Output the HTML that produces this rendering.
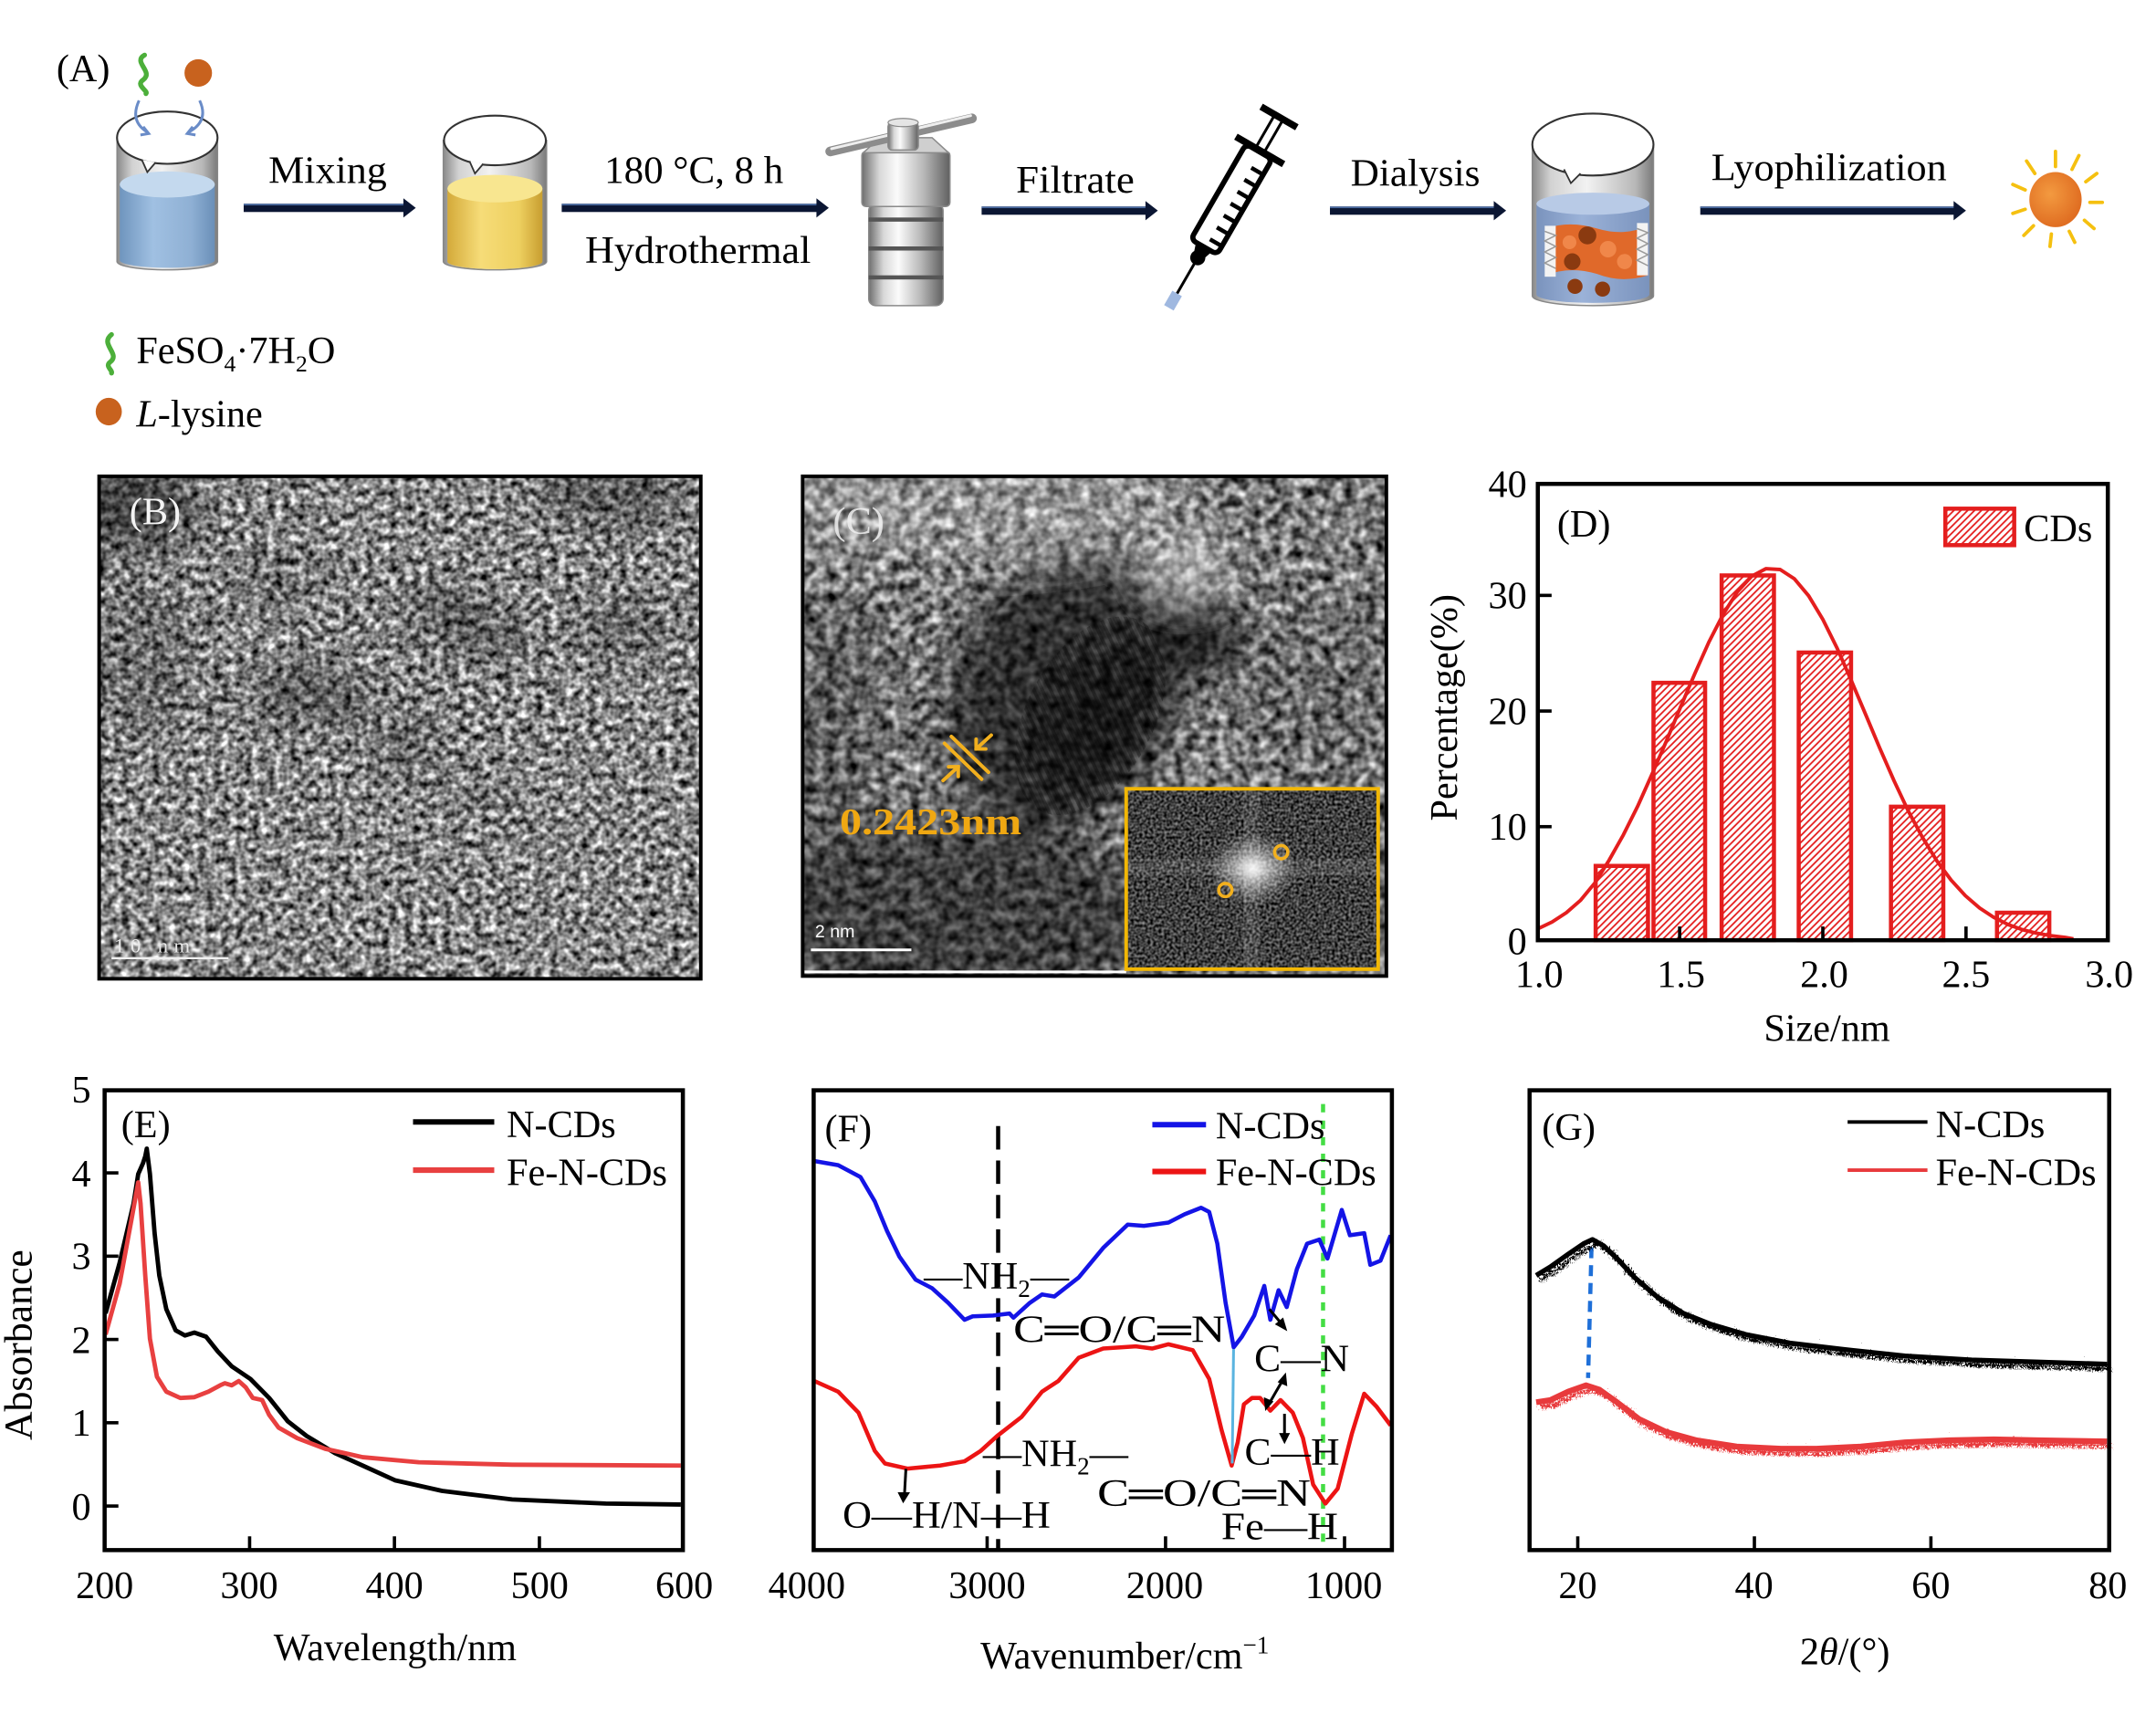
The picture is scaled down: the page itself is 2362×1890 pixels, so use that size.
<!DOCTYPE html>
<html><head><meta charset="utf-8"><style>
html,body{margin:0;padding:0;background:#fff;}
svg{display:block;}
text{font-family:"Liberation Serif","DejaVu Serif",serif;fill:#000;}
</style></head><body>
<svg xmlns="http://www.w3.org/2000/svg" width="2362" height="1890" viewBox="0 0 1566 1253.05">
<defs>
<linearGradient id="glass" x1="0" x2="1" y1="0" y2="0"><stop offset="0" stop-color="#8a8a8a"/><stop offset="0.15" stop-color="#d2d2d2"/><stop offset="0.45" stop-color="#f2f2f2"/><stop offset="0.85" stop-color="#b8b8b8"/><stop offset="1" stop-color="#7a7a7a"/></linearGradient>
<linearGradient id="blueLiq" x1="0" x2="1"><stop offset="0" stop-color="#6f95be"/><stop offset="0.35" stop-color="#a0c0e2"/><stop offset="0.75" stop-color="#8fb0d4"/><stop offset="1" stop-color="#6a8fb8"/></linearGradient>
<linearGradient id="yelLiq" x1="0" x2="1"><stop offset="0" stop-color="#d4aa3a"/><stop offset="0.35" stop-color="#f6dc78"/><stop offset="0.75" stop-color="#eed060"/><stop offset="1" stop-color="#c89e30"/></linearGradient>
<linearGradient id="steel" x1="0" x2="1"><stop offset="0" stop-color="#6e6e6e"/><stop offset="0.2" stop-color="#d8d8d8"/><stop offset="0.4" stop-color="#fbfbfb"/><stop offset="0.7" stop-color="#b8b8b8"/><stop offset="1" stop-color="#606060"/></linearGradient>
<linearGradient id="dialLiq" x1="0" x2="1"><stop offset="0" stop-color="#7a93bd"/><stop offset="0.4" stop-color="#9bb2d8"/><stop offset="1" stop-color="#7a93bd"/></linearGradient>
<radialGradient id="sunG" cx="0.4" cy="0.4" r="0.6"><stop offset="0" stop-color="#f39a40"/><stop offset="1" stop-color="#e06e22"/></radialGradient>
<radialGradient id="fftG"><stop offset="0" stop-color="#fff" stop-opacity="0.95"/><stop offset="0.5" stop-color="#fff" stop-opacity="0.4"/><stop offset="1" stop-color="#fff" stop-opacity="0"/></radialGradient>
<pattern id="hatch" width="5" height="5" patternUnits="userSpaceOnUse"><rect width="5" height="5" fill="#fff"/><path d="M-1,1 L1,-1 M0,5 L5,0 M4,6 L6,4" stroke="#e41e1e" stroke-width="1.2"/></pattern>
<pattern id="fr" width="5.5" height="6" patternUnits="userSpaceOnUse" patternTransform="rotate(-25)"><rect width="2.6" height="6" fill="#000"/></pattern>
<filter id="fB" filterUnits="userSpaceOnUse" x="72" y="346" width="437" height="365" color-interpolation-filters="sRGB">
<feTurbulence type="fractalNoise" baseFrequency="0.18" numOctaves="2" seed="11"/>
<feColorMatrix type="matrix" values="1.6 0 0 0 -0.27  1.6 0 0 0 -0.27  1.6 0 0 0 -0.27  0 0 0 0 1"/>
</filter>
<filter id="fC" filterUnits="userSpaceOnUse" x="583" y="346" width="424" height="364" color-interpolation-filters="sRGB">
<feTurbulence type="fractalNoise" baseFrequency="0.13" numOctaves="2" seed="5"/>
<feColorMatrix type="matrix" values="1.4 0 0 0 -0.22  1.4 0 0 0 -0.22  1.4 0 0 0 -0.22  0 0 0 0 1"/>
</filter>
<filter id="fI" filterUnits="userSpaceOnUse" x="818" y="573" width="183" height="131" color-interpolation-filters="sRGB">
<feTurbulence type="fractalNoise" baseFrequency="0.5" numOctaves="1" seed="2"/>
<feColorMatrix type="matrix" values="1.0 0 0 0 -0.25  1.0 0 0 0 -0.25  1.0 0 0 0 -0.25  0 0 0 0 1"/>
</filter>
<filter id="blur14" x="-50%" y="-50%" width="200%" height="200%"><feGaussianBlur stdDeviation="14"/></filter>
<filter id="jit" filterUnits="userSpaceOnUse" x="1105" y="880" width="435" height="200">
<feTurbulence type="turbulence" baseFrequency="0.8 0.4" numOctaves="1" seed="3" result="t"/>
<feDisplacementMap in="SourceGraphic" in2="t" scale="9" xChannelSelector="R" yChannelSelector="G"/>
</filter>
<clipPath id="cB"><rect x="72" y="346" width="437" height="365"/></clipPath>
<clipPath id="cC"><rect x="583" y="346" width="424" height="363"/></clipPath>
<clipPath id="cI"><rect x="818" y="573" width="183" height="131"/></clipPath>
<clipPath id="cPart"><ellipse cx="792" cy="520" rx="46" ry="78" transform="rotate(28 792 520)"/></clipPath>
</defs>

<!-- ================= PANEL A ================= -->
<text x="41" y="59" font-size="28">(A)</text>
<path d="M105,40 C96,45 112,52 104,58 C98,62 108,66 106,68" stroke="#4caf3a" stroke-width="3.5" fill="none" stroke-linecap="round"/>
<ellipse cx="144" cy="53" rx="10" ry="10" fill="#c8621e"/>

<path d="M85,100 L85,190 A36.5,6 0 0 0 158,190 L158,100 Z" fill="url(#glass)" stroke="#888" stroke-width="1"/>
<path d="M87,134 L87,189 A34.5,5.5 0 0 0 156,189 L156,134 Z" fill="url(#blueLiq)"/>
<ellipse cx="121.5" cy="134" rx="34.5" ry="9.5" fill="#c4d9ee"/>
<ellipse cx="121.5" cy="100" rx="36.5" ry="19" fill="#fff" stroke="#333" stroke-width="1.4"/>
<path d="M103,116 L107,125 L113,118" fill="#fff" stroke="#333" stroke-width="1.2"/>
<path d="M101,73 Q94,88 107,96" stroke="#6a8cc8" stroke-width="2" fill="none"/>
<path d="M104,92 L108,97 L102,98" stroke="#6a8cc8" stroke-width="2" fill="none"/>
<path d="M145,73 Q152,88 137,96" stroke="#6a8cc8" stroke-width="2" fill="none"/>
<path d="M140,92 L136,97 L142,98" stroke="#6a8cc8" stroke-width="2" fill="none"/>

<rect x="177" y="148" width="118" height="6" fill="#0b1633"/><rect x="177" y="148" width="118" height="1.2" fill="#4a6aa0"/>
<polygon points="293,144 302,151 293,158" fill="#0b1633"/>
<text x="195" y="133" font-size="28" textLength="86" lengthAdjust="spacingAndGlyphs">Mixing</text>

<path d="M322,102 L322,190 A37.5,6 0 0 0 397,190 L397,102 Z" fill="url(#glass)" stroke="#888" stroke-width="1"/>
<path d="M325,137 L325,190 A34.5,5.5 0 0 0 394,190 L394,137 Z" fill="url(#yelLiq)"/>
<ellipse cx="359.5" cy="137" rx="34.5" ry="10" fill="#f8e690"/>
<ellipse cx="359.5" cy="102" rx="37" ry="18" fill="#fff" stroke="#333" stroke-width="1.4"/>
<path d="M341,117 L345,126 L351,119" fill="#fff" stroke="#333" stroke-width="1.2"/>

<rect x="408" y="148" width="186" height="6" fill="#0b1633"/><rect x="408" y="148" width="186" height="1.2" fill="#4a6aa0"/>
<polygon points="593,144 602,151 593,158" fill="#0b1633"/>
<text x="439" y="133" font-size="28" textLength="130" lengthAdjust="spacingAndGlyphs">180 °C, 8 h</text>
<text x="425" y="191" font-size="28" textLength="164" lengthAdjust="spacingAndGlyphs">Hydrothermal</text>

<rect x="631" y="148" width="54" height="74" rx="5" fill="url(#steel)" stroke="#8a8a8a" stroke-width="1"/>
<rect x="631" y="158" width="54" height="3" fill="#555"/>
<rect x="631" y="179" width="54" height="3" fill="#555"/>
<rect x="631" y="200" width="54" height="3" fill="#555"/>
<rect x="626" y="110" width="64" height="40" rx="3" fill="url(#steel)" stroke="#8a8a8a" stroke-width="1"/>
<polygon points="627,111 639,100 677,100 689,111" fill="#cfcfcf" stroke="#8a8a8a" stroke-width="1"/>
<line x1="603" y1="110" x2="706" y2="86" stroke="#8c8c8c" stroke-width="7" stroke-linecap="round"/>
<line x1="604" y1="108" x2="705" y2="84" stroke="#eeeeee" stroke-width="2" stroke-linecap="round"/>
<rect x="645" y="89" width="22" height="20" rx="3" fill="url(#steel)" stroke="#888" stroke-width="1"/>
<ellipse cx="656" cy="89" rx="11" ry="3" fill="#e5e5e5" stroke="#888" stroke-width="0.8"/>

<rect x="713" y="150" width="120" height="6" fill="#0b1633"/><rect x="713" y="150" width="120" height="1.2" fill="#4a6aa0"/>
<polygon points="832,146 841,153 832,160" fill="#0b1633"/>
<text x="738" y="140" font-size="28" textLength="86" lengthAdjust="spacingAndGlyphs">Filtrate</text>

<g transform="translate(929,85) rotate(120)">
<line x1="0" y1="-15" x2="0" y2="15" stroke="#000" stroke-width="5"/>
<line x1="0" y1="-3.5" x2="30" y2="-3.5" stroke="#000" stroke-width="2"/>
<line x1="0" y1="3.5" x2="30" y2="3.5" stroke="#000" stroke-width="2"/>
<line x1="28" y1="-20" x2="28" y2="20" stroke="#000" stroke-width="5"/>
<rect x="29" y="-11" width="80" height="22" rx="4" fill="#fff" stroke="#000" stroke-width="3.8"/>
<g stroke="#000" stroke-width="3">
<line x1="42" y1="-10" x2="42" y2="-1"/><line x1="52" y1="-10" x2="52" y2="-1"/><line x1="62" y1="-10" x2="62" y2="-1"/><line x1="72" y1="-10" x2="72" y2="-1"/><line x1="82" y1="-10" x2="82" y2="-1"/><line x1="92" y1="-10" x2="92" y2="-1"/><line x1="102" y1="-10" x2="102" y2="-1"/>
</g>
<path d="M108,-7 L120,-3 L120,3 L108,7 Z" fill="#000"/>
<circle cx="118" cy="0" r="5.5" fill="#000"/>
<line x1="120" y1="0" x2="150" y2="0" stroke="#000" stroke-width="2"/>
<rect x="148" y="-4" width="12" height="8" fill="#9fb8e0"/>
</g>

<rect x="966" y="150" width="120" height="6" fill="#0b1633"/><rect x="966" y="150" width="120" height="1.2" fill="#4a6aa0"/>
<polygon points="1085,146 1094,153 1085,160" fill="#0b1633"/>
<text x="981" y="135" font-size="28" textLength="94" lengthAdjust="spacingAndGlyphs">Dialysis</text>

<path d="M1113,106 L1113,215 A44,7 0 0 0 1201,215 L1201,106 Z" fill="url(#glass)" stroke="#888" stroke-width="1"/>
<path d="M1116,148 L1116,214 A41,6 0 0 0 1198,214 L1198,148 Z" fill="url(#dialLiq)"/>
<ellipse cx="1157" cy="148" rx="41" ry="8" fill="#b8cae6"/>
<path d="M1123,166 Q1140,160 1160,166 Q1180,172 1197,164 L1197,200 Q1178,206 1160,199 Q1140,193 1123,200 Z" fill="#e0692a"/>
<rect x="1122" y="164" width="8" height="37" fill="#f3f3f3"/>
<path d="M1122,168 L1130,171 L1122,175 L1130,179 L1122,183 L1130,187 L1122,191 L1130,195" stroke="#9a9a9a" stroke-width="1" fill="none"/>
<rect x="1189" y="162" width="8" height="38" fill="#f3f3f3"/>
<path d="M1189,166 L1197,169 L1189,173 L1197,177 L1189,181 L1197,185 L1189,189 L1197,193" stroke="#9a9a9a" stroke-width="1" fill="none"/>
<circle cx="1153" cy="171" r="6.5" fill="#8a3a10"/>
<circle cx="1142" cy="190" r="6" fill="#8a3a10"/>
<circle cx="1168" cy="181" r="6" fill="#f0874a"/>
<circle cx="1180" cy="190" r="5.5" fill="#f0874a"/>
<circle cx="1140" cy="176" r="5" fill="#f0874a"/>
<circle cx="1144" cy="208" r="5.5" fill="#8a3a10"/>
<circle cx="1164" cy="210" r="5.5" fill="#8a3a10"/>
<ellipse cx="1157" cy="105" rx="44" ry="22.5" fill="#fff" stroke="#333" stroke-width="1.4"/>
<path d="M1136,123 L1141,133 L1148,126" fill="#fff" stroke="#333" stroke-width="1.2"/>

<rect x="1235" y="150" width="185" height="6" fill="#0b1633"/><rect x="1235" y="150" width="185" height="1.2" fill="#4a6aa0"/>
<polygon points="1419,146 1428,153 1419,160" fill="#0b1633"/>
<text x="1243" y="131" font-size="28" textLength="171" lengthAdjust="spacingAndGlyphs">Lyophilization</text>

<g stroke="#f5c010" stroke-width="2.5" stroke-linecap="round">
<line x1="1493" y1="121" x2="1493" y2="110"/>
<line x1="1505" y1="123" x2="1510" y2="113"/>
<line x1="1515" y1="132" x2="1523" y2="126"/>
<line x1="1518" y1="147" x2="1527" y2="147"/>
<line x1="1514" y1="160" x2="1521" y2="166"/>
<line x1="1503" y1="168" x2="1507" y2="176"/>
<line x1="1490" y1="170" x2="1489" y2="179"/>
<line x1="1477" y1="164" x2="1470" y2="171"/>
<line x1="1471" y1="152" x2="1462" y2="155"/>
<line x1="1471" y1="138" x2="1462" y2="134"/>
<line x1="1478" y1="126" x2="1472" y2="117"/>
</g>
<ellipse cx="1493" cy="145" rx="19" ry="20" fill="url(#sunG)"/>

<path d="M81,243 C72,250 88,257 80,263 C76,266 82,269 81,271" stroke="#4caf3a" stroke-width="3.5" fill="none" stroke-linecap="round"/>
<text x="99" y="264" font-size="28">FeSO<tspan font-size="17" dy="6">4</tspan><tspan dy="-6">·7H</tspan><tspan font-size="17" dy="6">2</tspan><tspan dy="-6">O</tspan></text>
<ellipse cx="79" cy="299" rx="9.5" ry="10" fill="#c8621e"/>
<text x="99" y="310" font-size="28"><tspan font-style="italic">L</tspan>-lysine</text>

<!-- ================= PANEL B ================= -->
<rect x="72" y="346" width="437" height="365" fill="#888"/>
<rect x="72" y="346" width="437" height="365" filter="url(#fB)"/>
<g clip-path="url(#cB)">
<g filter="url(#blur14)" fill="#000">
<ellipse cx="95" cy="368" rx="50" ry="32" opacity="0.5"/>
<ellipse cx="445" cy="360" rx="55" ry="20" opacity="0.38"/>
<ellipse cx="338" cy="452" rx="48" ry="18" transform="rotate(20 338 452)" opacity="0.38"/>
<ellipse cx="225" cy="505" rx="45" ry="20" opacity="0.36"/>
<ellipse cx="295" cy="540" rx="26" ry="18" opacity="0.3"/>
<ellipse cx="452" cy="455" rx="36" ry="20" opacity="0.28"/>
<ellipse cx="105" cy="480" rx="38" ry="55" opacity="0.2"/>
<ellipse cx="350" cy="578" rx="22" ry="10" opacity="0.25"/>
<ellipse cx="200" cy="420" rx="40" ry="20" opacity="0.18"/>
</g>
<line x1="81" y1="696" x2="166" y2="696" stroke="#f0f0f0" stroke-width="1.6"/>
<text x="83" y="692" font-size="15" style="fill:#e8e8e8" textLength="55" lengthAdjust="spacing">10 nm</text>
<text x="94" y="381" font-size="28" style="fill:#f4f4f4">(B)</text>
</g>
<rect x="72" y="346" width="437" height="365" fill="none" stroke="#000" stroke-width="2.6"/>

<!-- ================= PANEL C ================= -->
<rect x="583" y="346" width="424" height="363" fill="#777"/>
<rect x="583" y="346" width="424" height="363" filter="url(#fC)"/>
<g clip-path="url(#cC)">
<g filter="url(#blur14)">
<ellipse cx="690" cy="365" rx="170" ry="40" fill="#fff" opacity="0.22"/>
<ellipse cx="862" cy="408" rx="28" ry="24" fill="#fff" opacity="0.45"/>
<ellipse cx="772" cy="500" rx="80" ry="106" transform="rotate(28 772 500)" fill="#000" opacity="0.6"/>
<ellipse cx="873" cy="460" rx="28" ry="32" fill="#000" opacity="0.7"/>
<ellipse cx="690" cy="665" rx="150" ry="70" fill="#000" opacity="0.48"/>
<ellipse cx="605" cy="520" rx="40" ry="90" fill="#000" opacity="0.22"/>
<ellipse cx="800" cy="530" rx="45" ry="62" transform="rotate(28 800 530)" fill="#000" opacity="0.38"/>
<ellipse cx="960" cy="640" rx="60" ry="50" fill="#000" opacity="0.25"/>
<ellipse cx="960" cy="500" rx="60" ry="60" fill="#000" opacity="0.12"/>
</g>
<g clip-path="url(#cPart)"><rect x="730" y="430" width="130" height="180" fill="url(#fr)" opacity="0.3"/></g>
<line x1="589" y1="690" x2="662" y2="690" stroke="#fff" stroke-width="2"/>
<text x="592" y="681" font-size="13" style="fill:#fff;font-family:'Liberation Sans',sans-serif">2 nm</text>
<line x1="583" y1="706" x2="818" y2="706" stroke="#fff" stroke-width="2"/>
<text x="605" y="388" font-size="28" style="fill:#f0f0f0" opacity="0.85">(C)</text>
</g>
<g stroke="#f2b01e" stroke-width="2.6" fill="none" stroke-linecap="round">
<line x1="686" y1="540" x2="713" y2="566"/>
<line x1="691" y1="535" x2="718" y2="561"/>
<line x1="720" y1="534" x2="709" y2="544"/>
<path d="M709,537 L709,544 L716,544"/>
<line x1="685" y1="567" x2="696" y2="557"/>
<path d="M689,557 L696,557 L696,564"/>
</g>
<text x="610" y="606" font-size="27" font-weight="bold" style="fill:#f0a812" textLength="132" lengthAdjust="spacingAndGlyphs">0.2423nm</text>
<rect x="818" y="573" width="183" height="131" fill="#3a3a3a"/>
<rect x="818" y="573" width="183" height="131" filter="url(#fI)"/>
<g clip-path="url(#cI)">
<rect x="903" y="573" width="12" height="131" fill="#fff" opacity="0.1"/>
<rect x="818" y="624" width="183" height="12" fill="#fff" opacity="0.1"/>
<ellipse cx="910" cy="631" rx="32" ry="26" fill="url(#fftG)"/>
</g>
<circle cx="930.6" cy="619" r="4.8" fill="none" stroke="#f2b01e" stroke-width="2.4"/>
<circle cx="890" cy="646.5" r="4.8" fill="none" stroke="#f2b01e" stroke-width="2.4"/>
<rect x="818" y="573" width="183" height="131" fill="none" stroke="#f2b705" stroke-width="2.6"/>
<rect x="583" y="346" width="424" height="363" fill="none" stroke="#000" stroke-width="2.6"/>

<!-- ================= PANEL D ================= -->
<g stroke="#e41e1e" stroke-width="3" fill="url(#hatch)">
<rect x="1159" y="629" width="38" height="54"/>
<rect x="1201" y="496" width="37.5" height="187"/>
<rect x="1250.5" y="418" width="38" height="265"/>
<rect x="1306.5" y="474" width="38" height="209"/>
<rect x="1373.5" y="586" width="38" height="97"/>
<rect x="1450.5" y="663" width="38" height="20"/>
<rect x="1413" y="369.5" width="50" height="26.5"/>
</g>
<polyline fill="none" stroke="#e41e1e" stroke-width="2.6" stroke-linejoin="round" points="1117,674.7 1127.4,669.7 1137.7,663 1148.1,653.9 1158.4,641.4 1168.8,624.8 1179.1,606.5 1189.5,585.7 1199.8,562.7 1210.2,538.7 1220.5,514 1230.9,489.6 1241.2,466.5 1251.6,446.2 1261.9,429.9 1272.3,418.6 1282.6,413.1 1293,413.7 1303.3,420.4 1313.7,432.8 1324,449.9 1334.4,470.9 1344.7,494.4 1355.1,519 1365.4,543.6 1375.8,567.3 1386.1,589.2 1396.5,608.5 1406.8,625.3 1417.2,639.3 1427.5,650.6 1437.9,659.6 1448.2,666.4 1458.6,671.6 1468.9,675.3 1479.3,677.9 1489.6,679.7 1500,680.9 1506,682"/>
<g stroke="#000" stroke-width="2.4">
<line x1="1117" y1="432.5" x2="1127" y2="432.5"/>
<line x1="1117" y1="516.5" x2="1127" y2="516.5"/>
<line x1="1117" y1="600.5" x2="1127" y2="600.5"/>
<line x1="1220" y1="683" x2="1220" y2="673"/>
<line x1="1324" y1="683" x2="1324" y2="673"/>
<line x1="1428" y1="683" x2="1428" y2="673"/>
</g>
<rect x="1117" y="351.5" width="414" height="331.5" fill="none" stroke="#000" stroke-width="3"/>
<g font-size="28" text-anchor="end">
<text x="1109" y="361">40</text><text x="1109" y="442">30</text><text x="1109" y="526">20</text><text x="1109" y="610">10</text><text x="1109" y="693">0</text>
</g>
<g font-size="28" text-anchor="middle">
<text x="1118" y="717">1.0</text><text x="1221" y="717">1.5</text><text x="1325" y="717">2.0</text><text x="1428" y="717">2.5</text><text x="1532" y="717">3.0</text>
<text x="1327" y="756">Size/nm</text>
</g>
<text x="1131" y="390" font-size="28">(D)</text>
<text x="1470" y="393" font-size="28">CDs</text>
<text transform="translate(1058,514) rotate(-90)" font-size="28" text-anchor="middle">Percentage(%)</text>

<!-- ================= PANEL E ================= -->
<polyline fill="none" stroke="#000" stroke-width="3.2" stroke-linejoin="round" points="76.7,954 86.9,917.3 97,874.3 100.4,852.8 103.8,845.1 105.5,840 106.6,834.4 108.9,852.8 112.3,895.8 115.7,926.5 120.8,951 127.6,966.4 134.4,970.1 141.2,968 149.7,971 158.2,981.7 168.3,992.5 181.9,1001.7 195.5,1015.5 209,1032.4 222.7,1043.1 243,1055.4 263.4,1064.6 287.2,1075.4 321.1,1083 372,1089.2 439.9,1092.2 494.5,1092.9"/>
<polyline fill="none" stroke="#e84040" stroke-width="3.2" stroke-linejoin="round" points="76.7,969.4 86.9,932.5 95.4,886.5 100.4,858.9 102.1,874.3 105.5,926.5 108.9,972.5 114,1000.1 120.8,1010.9 131,1015.5 141.2,1014.9 151.4,1010.9 159.9,1006.3 163.3,1004.8 168.3,1006.3 173.4,1003.2 178.5,1007.8 183.6,1015.5 190.4,1017 195.5,1027.8 202.3,1037 215.9,1044.7 236.2,1052.4 263.4,1058.5 304.1,1062.2 372,1064 494.5,1064.6"/>
<g stroke="#000" stroke-width="2.4">
<line x1="76" y1="852" x2="86" y2="852"/>
<line x1="76" y1="912.5" x2="86" y2="912.5"/>
<line x1="76" y1="973" x2="86" y2="973"/>
<line x1="76" y1="1033.5" x2="86" y2="1033.5"/>
<line x1="76" y1="1094" x2="86" y2="1094"/>
<line x1="181.3" y1="1126" x2="181.3" y2="1116"/>
<line x1="286.5" y1="1126" x2="286.5" y2="1116"/>
<line x1="391.8" y1="1126" x2="391.8" y2="1116"/>
</g>
<rect x="76" y="792" width="420" height="334" fill="none" stroke="#000" stroke-width="3"/>
<g font-size="28" text-anchor="end">
<text x="66" y="801">5</text><text x="66" y="862">4</text><text x="66" y="922">3</text><text x="66" y="983">2</text><text x="66" y="1043">1</text><text x="66" y="1104">0</text>
</g>
<g font-size="28" text-anchor="middle">
<text x="76" y="1161">200</text><text x="181" y="1161">300</text><text x="286.5" y="1161">400</text><text x="392" y="1161">500</text><text x="497" y="1161">600</text>
<text x="287" y="1206">Wavelength/nm</text>
</g>
<text transform="translate(23,977) rotate(-90)" font-size="29" text-anchor="middle">Absorbance</text>
<text x="88" y="826" font-size="28">(E)</text>
<line x1="300" y1="815" x2="359" y2="815" stroke="#000" stroke-width="4"/>
<line x1="300" y1="850" x2="359" y2="850" stroke="#e84040" stroke-width="4"/>
<text x="368" y="826" font-size="28">N-CDs</text>
<text x="368" y="861" font-size="28">Fe-N-CDs</text>

<!-- ================= PANEL F ================= -->
<line x1="725" y1="818" x2="725" y2="1126" stroke="#000" stroke-width="3" stroke-dasharray="17 8"/>
<line x1="961" y1="802" x2="961" y2="1126" stroke="#44dd44" stroke-width="3" stroke-dasharray="6 6"/>
<polyline fill="none" stroke="#1414e6" stroke-width="3" stroke-linejoin="round" points="591.6,843.4 608.8,846.4 625,855 635.4,872.7 644.3,894.2 653.2,912.7 665,929.5 676.9,935.7 688.7,946.4 700.6,958.7 706.5,956.2 721.3,955.6 733.2,954.1 736.1,957.2 748,946.4 756.9,940.3 765.8,941.8 783.5,928 801.3,906.5 819.1,889.6 830.9,890.5 848.7,888.1 860.5,882 872.4,877.3 878.3,880.4 884.2,903.4 890.2,946.4 896.1,978.7 902,971 911,955.6 918.3,934.1 922.7,958.7 928.7,937.2 934.6,949.5 942,921.9 949.4,903.4 958.3,900.4 964.2,914.2 974.6,878.9 980.5,897.3 990.9,895.8 995.3,918.8 1002.7,915.8 1010.1,897.3"/>
<polyline fill="none" stroke="#ec1414" stroke-width="3" stroke-linejoin="round" points="591.6,1003.2 608.8,1010.9 623.6,1026.2 635.4,1053.9 642.8,1063.1 659.1,1066.8 682.8,1064.6 700.6,1061.5 712.4,1053.9 724.3,1043.1 742,1029.3 756.9,1010.9 768.7,1003.2 783.5,986.3 801.3,979.6 825,978 836.8,979.6 848.7,976.5 866.4,980.8 878.3,1001.7 887.2,1038.5 894.6,1064.6 899,1047.7 903.5,1020.1 909.4,1015.5 915.3,1015.5 922.7,1024.7 930.1,1017 939,1026.2 946.4,1044.6 953.8,1078.4 962.7,1092.2 971.6,1081.4 981.9,1041.5 990.9,1012.4 999.7,1021.6 1010.1,1035.4"/>
<line x1="896" y1="980" x2="895" y2="1063" stroke="#5ab4e0" stroke-width="2"/>
<g stroke="#000" stroke-width="2.4">
<line x1="717" y1="1126" x2="717" y2="1116"/>
<line x1="846.6" y1="1126" x2="846.6" y2="1116"/>
<line x1="976.6" y1="1126" x2="976.6" y2="1116"/>
</g>
<rect x="591" y="792" width="420" height="334" fill="none" stroke="#000" stroke-width="3"/>
<g stroke="#000" stroke-width="2" fill="#000">
<line x1="922" y1="951" x2="932" y2="963"/><polygon points="935,967 926,962 932,957" stroke="none"/>
<line x1="921" y1="1021" x2="932" y2="1002"/><polygon points="934,997 935,1007 928,1004" stroke="none"/><polygon points="919,1025 918,1015 925,1018" stroke="none"/>
<line x1="933" y1="1027" x2="933" y2="1043"/><polygon points="933,1049 929,1041 937,1041" stroke="none"/>
<line x1="658" y1="1067" x2="657" y2="1085"/><polygon points="656,1092 652,1084 661,1084" stroke="none"/>
</g>
<g font-size="28">
<text x="599" y="829">(F)</text>
<text x="671" y="936">—NH<tspan font-size="18" dy="6">2</tspan><tspan dy="-6">—</tspan></text>
<text x="736" y="975" textLength="154" lengthAdjust="spacingAndGlyphs">C═O/C═N</text>
<text x="911" y="996" textLength="69" lengthAdjust="spacingAndGlyphs">C—N</text>
<text x="904" y="1064" textLength="69" lengthAdjust="spacingAndGlyphs">C—H</text>
<text x="714" y="1065">—NH<tspan font-size="18" dy="6">2</tspan><tspan dy="-6">—</tspan></text>
<text x="797" y="1094" textLength="155" lengthAdjust="spacingAndGlyphs">C═O/C═N</text>
<text x="612" y="1110" textLength="151" lengthAdjust="spacingAndGlyphs">O—H/N—H</text>
<text x="887" y="1118" textLength="85" lengthAdjust="spacingAndGlyphs">Fe—H</text>
</g>
<line x1="837" y1="817" x2="876" y2="817" stroke="#1414e6" stroke-width="4"/>
<line x1="837" y1="851" x2="876" y2="851" stroke="#ec1414" stroke-width="4"/>
<text x="883" y="827" font-size="28">N-CDs</text>
<text x="883" y="861" font-size="28">Fe-N-CDs</text>
<g font-size="28" text-anchor="middle">
<text x="586" y="1161">4000</text><text x="717" y="1161">3000</text><text x="846" y="1161">2000</text><text x="976" y="1161">1000</text>
<text x="817" y="1212">Wavenumber/cm<tspan font-size="18" dy="-11">−1</tspan></text>
</g>

<!-- ================= PANEL G ================= -->
<line x1="1156" y1="906" x2="1153.5" y2="1001" stroke="#1e6fd8" stroke-width="3" stroke-dasharray="8 5"/>
<polyline fill="none" stroke="#000" stroke-width="3.6" stroke-linejoin="round" points="1115.8,926.5 1126.1,920.3 1139,911.1 1150.3,903.4 1156.7,900.4 1164.8,905 1174.5,914.2 1187.3,928 1203.4,941.8 1222.8,954.1 1242.1,961.8 1267.9,969.4 1300.1,975.6 1338.7,980.2 1383.8,985 1432.1,987.9 1480.4,989.4 1530.4,991"/>
<polyline fill="none" stroke="#000" stroke-width="3" stroke-linejoin="round" filter="url(#jit)" points="1115.8,926.5 1126.1,920.3 1139,911.1 1150.3,903.4 1156.7,900.4 1164.8,905 1174.5,914.2 1187.3,928 1203.4,941.8 1222.8,954.1 1242.1,961.8 1267.9,969.4 1300.1,975.6 1338.7,980.2 1383.8,985 1432.1,987.9 1480.4,989.4 1530.4,991"/>
<polyline fill="none" stroke="#e83a3c" stroke-width="4.2" stroke-linejoin="round" points="1115.8,1018.6 1126.1,1017 1139,1010.9 1151.9,1006.3 1161.6,1009.4 1174.5,1018.6 1190.6,1030.9 1209.9,1040.1 1232.4,1046.3 1261.4,1050.8 1293.6,1052.4 1319.4,1052.4 1351.6,1050.8 1383.8,1047.7 1416,1046.2 1448.2,1045.6 1480.4,1046.2 1530.4,1047.1"/>
<polyline fill="none" stroke="#e83a3c" stroke-width="3.4" stroke-linejoin="round" filter="url(#jit)" points="1115.8,1018.6 1126.1,1017 1139,1010.9 1151.9,1006.3 1161.6,1009.4 1174.5,1018.6 1190.6,1030.9 1209.9,1040.1 1232.4,1046.3 1261.4,1050.8 1293.6,1052.4 1319.4,1052.4 1351.6,1050.8 1383.8,1047.7 1416,1046.2 1448.2,1045.6 1480.4,1046.2 1530.4,1047.1"/>
<g stroke="#000" stroke-width="2.4">
<line x1="1146" y1="1126" x2="1146" y2="1116"/>
<line x1="1274.3" y1="1126" x2="1274.3" y2="1116"/>
<line x1="1402.5" y1="1126" x2="1402.5" y2="1116"/>
</g>
<rect x="1111" y="792" width="421" height="334" fill="none" stroke="#000" stroke-width="3"/>
<text x="1120" y="828" font-size="28">(G)</text>
<line x1="1342" y1="815" x2="1400" y2="815" stroke="#000" stroke-width="2.6"/>
<line x1="1342" y1="850" x2="1400" y2="850" stroke="#e83a3c" stroke-width="2.6"/>
<text x="1406" y="826" font-size="28">N-CDs</text>
<text x="1406" y="861" font-size="28">Fe-N-CDs</text>
<g font-size="28" text-anchor="middle">
<text x="1146" y="1161">20</text><text x="1274" y="1161">40</text><text x="1402.5" y="1161">60</text><text x="1531" y="1161">80</text>
<text x="1340" y="1209">2<tspan font-style="italic">θ</tspan>/(°)</text>
</g>
</svg>
</body></html>
